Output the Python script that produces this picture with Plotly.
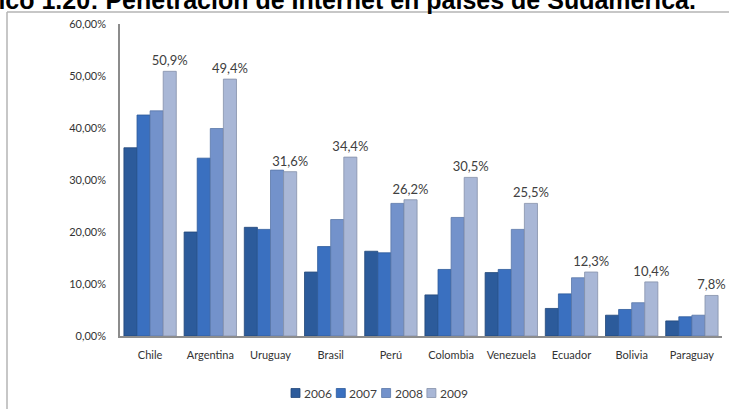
import plotly.graph_objects as go

countries = ["Chile", "Argentina", "Uruguay", "Brasil", "Perú", "Colombia",
             "Venezuela", "Ecuador", "Bolivia", "Paraguay"]
years = ["2006", "2007", "2008", "2009"]
v2006 = [0.362, 0.200, 0.209, 0.123, 0.163, 0.079, 0.122, 0.053, 0.040, 0.029]
v2007 = [0.425, 0.342, 0.205, 0.172, 0.160, 0.128, 0.128, 0.081, 0.051, 0.037]
v2008 = [0.433, 0.399, 0.319, 0.224, 0.255, 0.228, 0.205, 0.112, 0.064, 0.040]
v2009 = [0.509, 0.494, 0.316, 0.344, 0.262, 0.305, 0.255, 0.123, 0.104, 0.078]
yticks = [0, 0.1, 0.2, 0.3, 0.4, 0.5, 0.6]
title_text = "Gráfico 1.20: Penetración de Internet en países de Sudamérica."

colors = ["#2c5b9b", "#3a70c0", "#7392cb", "#a9b7d6"]
lines = ["#22477a", "#2d5a9a", "#5a77a8", "#8590aa"]
series = [v2006, v2007, v2008, v2009]

W, H = 729, 409
L, R, T, B = 120, 7, 24, 73  # plot area x 120..722, y 24..336

fig = go.Figure()
for i, (yr, vals) in enumerate(zip(years, series)):
    kw = {}
    if yr == "2009":
        kw = dict(texttemplate="%{y:.1%}", textposition="outside",
                  constraintext="none",
                  textfont=dict(family="Lato", size=13, color="#404040"),
                  cliponaxis=False)
    fig.add_trace(go.Bar(x=countries, y=vals, name=yr, showlegend=False,
                         marker=dict(color=colors[i], line=dict(color=lines[i], width=0.8)),
                         **kw))

pw = W - L - R
ph = H - T - B

def px_x(p):
    return (p - L) / pw

def px_y(p):
    return (H - B - p) / ph

shapes = [
    dict(type="line", xref="paper", yref="paper", x0=px_x(7), x1=px_x(760),
         y0=px_y(12), y1=px_y(12), line=dict(color="#b4b4b4", width=1.5)),
    dict(type="line", xref="paper", yref="paper", x0=px_x(7), x1=px_x(7),
         y0=px_y(12), y1=px_y(430), line=dict(color="#b4b4b4", width=1.5)),
]
annotations = [
    dict(text="<b>" + title_text + "</b>", xref="paper", yref="paper",
         x=px_x(698), y=px_y(16), xanchor="right", yanchor="bottom",
         showarrow=False, font=dict(family="Liberation Sans", size=25, color="#000000")),
]
leg_x0 = 291
leg_step = 45.3
leg_y = 393
for i, yr in enumerate(years):
    sx = leg_x0 + i * leg_step
    shapes.append(dict(type="rect", xref="paper", yref="paper",
                       x0=px_x(sx), x1=px_x(sx + 9), y0=px_y(leg_y - 4.5), y1=px_y(leg_y + 4.5),
                       fillcolor=colors[i], line=dict(color=lines[i], width=0.8)))
    annotations.append(dict(text=yr, xref="paper", yref="paper",
                            x=px_x(sx + 11), y=px_y(leg_y), xanchor="left", yanchor="middle",
                            showarrow=False,
                            font=dict(family="Lato", size=12, color="#404040")))

fig.update_layout(
    width=W, height=H,
    margin=dict(l=L, r=R, t=T, b=B, pad=0),
    paper_bgcolor="white", plot_bgcolor="white",
    separators=",.",
    barmode="group", bargap=0.13, bargroupgap=0.0,
    font=dict(family="Lato", size=11, color="#404040"),
    showlegend=False,
    xaxis=dict(showline=True, linecolor="#8c8c8c", linewidth=1.5, ticks="",
               showgrid=False, ticklabelstandoff=8,
               tickfont=dict(family="Lato", size=11, color="#333333")),
    yaxis=dict(range=[0, 0.6], tickvals=yticks, tickformat=".2%",
               showline=True, linecolor="#8c8c8c", linewidth=1.5, ticks="",
               showgrid=False, zeroline=False, ticklabelstandoff=10,
               tickfont=dict(family="Lato", size=11, color="#333333")),
    shapes=shapes,
    annotations=annotations,
)

fig.write_html("out.html", config={"displayModeBar": False},
               post_script="document.body.style.margin='0';document.body.style.overflow='hidden';")
